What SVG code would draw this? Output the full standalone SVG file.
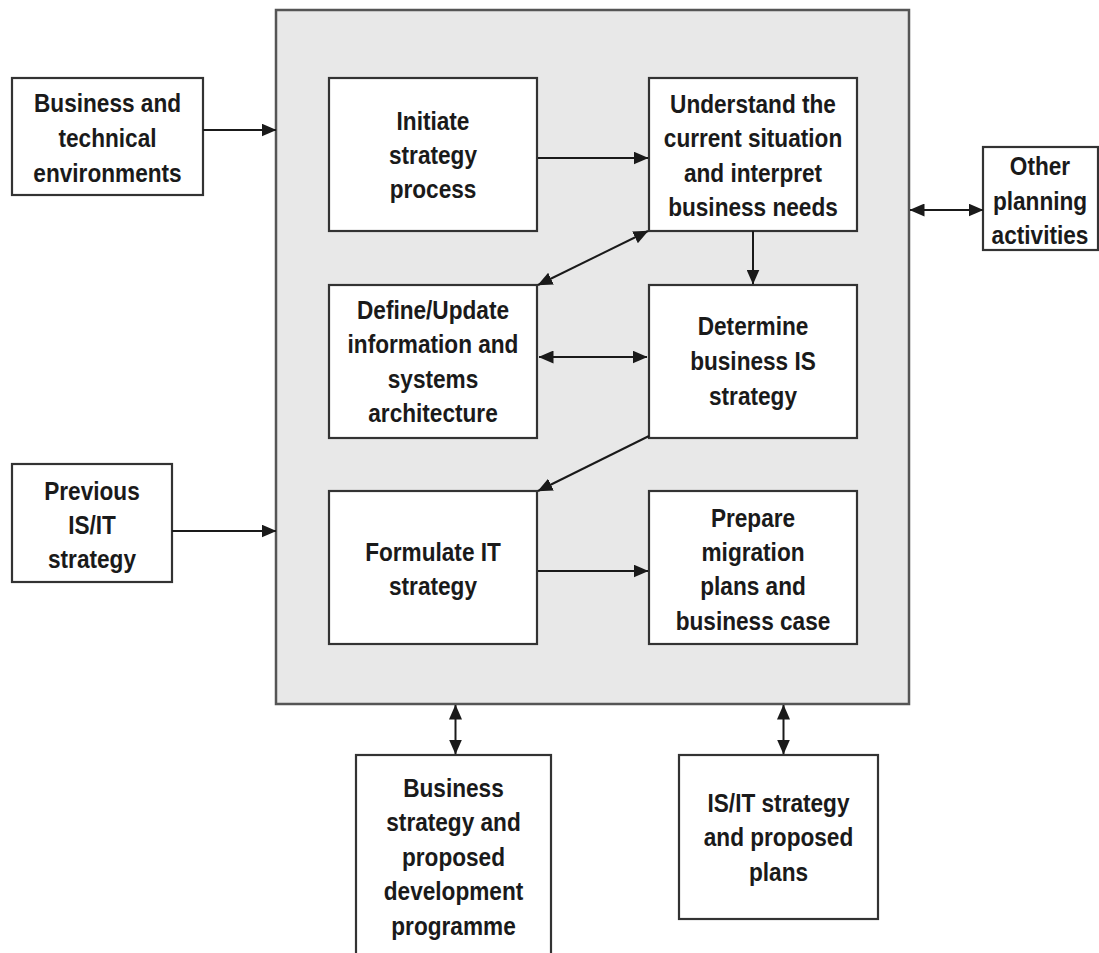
<svg xmlns="http://www.w3.org/2000/svg" width="1099" height="953" viewBox="0 0 1099 953">
  <style>
    .box { fill: #ffffff; stroke: #333333; stroke-width: 2.2; }
    .main { fill: #e8e8e8; stroke: #555555; stroke-width: 2.5; }
    .lbl { font-family: "Liberation Sans", Arial, sans-serif; font-weight: bold; font-size: 26px; fill: #1a1a1a; text-anchor: middle; }
    .con { stroke: #1a1a1a; stroke-width: 2; fill: none; }
    .one { marker-end: url(#ah); }
    .two { marker-start: url(#ah); marker-end: url(#ah); }
  </style>
  <defs>
    <marker id="ah" markerUnits="userSpaceOnUse" markerWidth="15" markerHeight="13" viewBox="0 0 15 13" refX="14.5" refY="6.5" orient="auto-start-reverse">
      <path d="M0,0 L15,6.5 L0,13 Z" fill="#1a1a1a"/>
    </marker>
  </defs>
  <rect width="1099" height="953" fill="#ffffff"/>

  <g id="main-process">
    <rect class="main" x="276" y="10" width="633" height="694"/>
  </g>

  <g id="business-technical">
    <rect class="box" x="12" y="78" width="191" height="117"/>
    <g transform="translate(107.5,0) scale(0.87,1)">
      <text class="lbl" x="0" y="112">Business and</text>
      <text class="lbl" x="0" y="147">technical</text>
      <text class="lbl" x="0" y="182">environments</text>
    </g>
  </g>

  <g id="previous-strategy">
    <rect class="box" x="12" y="464" width="160" height="118"/>
    <g transform="translate(92,0) scale(0.87,1)">
      <text class="lbl" x="0" y="500">Previous</text>
      <text class="lbl" x="0" y="534">IS/IT</text>
      <text class="lbl" x="0" y="568">strategy</text>
    </g>
  </g>

  <g id="other-planning">
    <rect class="box" x="983" y="147" width="115" height="103"/>
    <g transform="translate(1040,0) scale(0.87,1)">
      <text class="lbl" x="0" y="175.5">Other</text>
      <text class="lbl" x="0" y="210">planning</text>
      <text class="lbl" x="0" y="244.5">activities</text>
    </g>
  </g>

  <g id="initiate">
    <rect class="box" x="329" y="78" width="208" height="153"/>
    <g transform="translate(433,0) scale(0.87,1)">
      <text class="lbl" x="0" y="130">Initiate</text>
      <text class="lbl" x="0" y="164">strategy</text>
      <text class="lbl" x="0" y="198">process</text>
    </g>
  </g>

  <g id="understand">
    <rect class="box" x="649" y="78" width="208" height="153"/>
    <g transform="translate(753,0) scale(0.87,1)">
      <text class="lbl" x="0" y="113">Understand the</text>
      <text class="lbl" x="0" y="147.5">current situation</text>
      <text class="lbl" x="0" y="182">and interpret</text>
      <text class="lbl" x="0" y="216.5">business needs</text>
    </g>
  </g>

  <g id="define-architecture">
    <rect class="box" x="329" y="285" width="208" height="153"/>
    <g transform="translate(433,0) scale(0.87,1)">
      <text class="lbl" x="0" y="319">Define/Update</text>
      <text class="lbl" x="0" y="353.5">information and</text>
      <text class="lbl" x="0" y="388">systems</text>
      <text class="lbl" x="0" y="422.5">architecture</text>
    </g>
  </g>

  <g id="determine-is">
    <rect class="box" x="649" y="285" width="208" height="153"/>
    <g transform="translate(753,0) scale(0.87,1)">
      <text class="lbl" x="0" y="335">Determine</text>
      <text class="lbl" x="0" y="370">business IS</text>
      <text class="lbl" x="0" y="405">strategy</text>
    </g>
  </g>

  <g id="formulate-it">
    <rect class="box" x="329" y="491" width="208" height="153"/>
    <g transform="translate(433,0) scale(0.87,1)">
      <text class="lbl" x="0" y="561">Formulate IT</text>
      <text class="lbl" x="0" y="595">strategy</text>
    </g>
  </g>

  <g id="prepare-migration">
    <rect class="box" x="649" y="491" width="208" height="153"/>
    <g transform="translate(753,0) scale(0.87,1)">
      <text class="lbl" x="0" y="527">Prepare</text>
      <text class="lbl" x="0" y="561">migration</text>
      <text class="lbl" x="0" y="595.5">plans and</text>
      <text class="lbl" x="0" y="630">business case</text>
    </g>
  </g>

  <g id="business-strategy">
    <rect class="box" x="356" y="755" width="195" height="212"/>
    <g transform="translate(453.5,0) scale(0.87,1)">
      <text class="lbl" x="0" y="797">Business</text>
      <text class="lbl" x="0" y="831.5">strategy and</text>
      <text class="lbl" x="0" y="866">proposed</text>
      <text class="lbl" x="0" y="900.5">development</text>
      <text class="lbl" x="0" y="935">programme</text>
    </g>
  </g>

  <g id="isit-plans">
    <rect class="box" x="679" y="755" width="199" height="164"/>
    <g transform="translate(778.5,0) scale(0.87,1)">
      <text class="lbl" x="0" y="812">IS/IT strategy</text>
      <text class="lbl" x="0" y="846.5">and proposed</text>
      <text class="lbl" x="0" y="881">plans</text>
    </g>
  </g>

  <g id="connectors">
    <line class="con one" x1="203" y1="130" x2="276" y2="130"/>
    <line class="con one" x1="172" y1="531" x2="276" y2="531"/>
    <line class="con two" x1="910" y1="210" x2="983" y2="210"/>
    <line class="con one" x1="538" y1="158" x2="648" y2="158"/>
    <line class="con one" x1="753" y1="231" x2="753" y2="284"/>
    <line class="con two" x1="648" y1="231" x2="538" y2="285"/>
    <line class="con two" x1="539" y1="357" x2="647" y2="357"/>
    <line class="con one" x1="649" y1="436" x2="538" y2="491"/>
    <line class="con one" x1="538" y1="571" x2="648" y2="571"/>
    <line class="con two" x1="455.5" y1="705" x2="455.5" y2="754"/>
    <line class="con two" x1="783.5" y1="705" x2="783.5" y2="754"/>
  </g>
</svg>
